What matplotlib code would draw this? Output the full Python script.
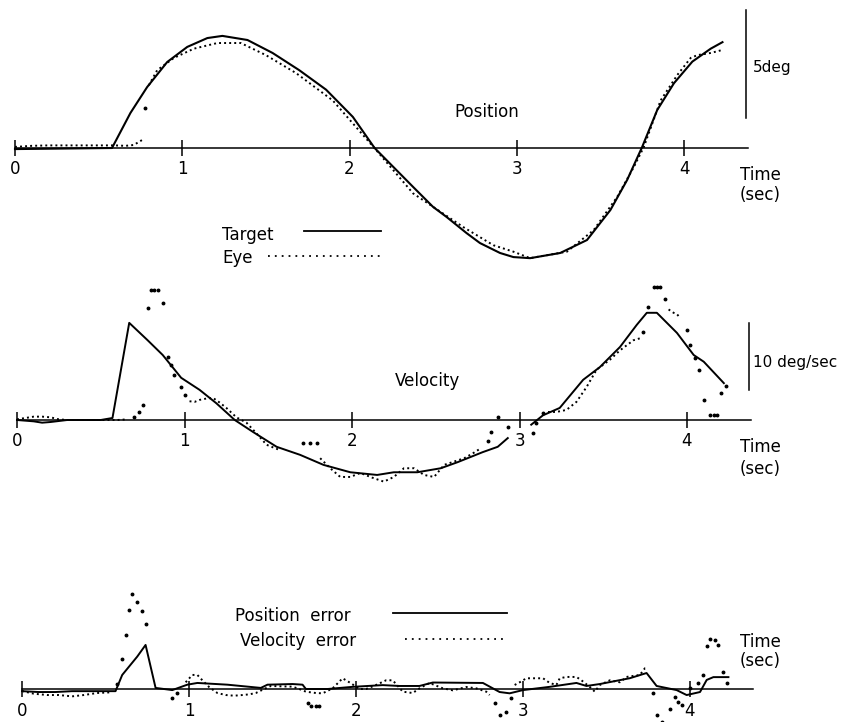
"""
Smooth pursuit tracking record: target vs eye position, velocity, and errors.
Three stacked traces sharing a time axis (sec), drawn in the old journal style.
"""

import numpy as np
import matplotlib.pyplot as plt

nan = np.nan

# --- Position panel (deg) ---
target_pos_t = [0, 0.58, 0.69, 0.79, 0.91, 1.03, 1.15, 1.24, 1.39, 1.54, 1.70, 1.86,
                2.02, 2.15, 2.38, 2.50, 2.58, 2.70, 2.78, 2.90, 2.98, 3.08, 3.26, 3.42,
                3.56, 3.66, 3.75, 3.84, 3.94, 4.05, 4.16, 4.23]
target_pos = [-0.05, 0, 1.62, 2.82, 3.98, 4.68, 5.09, 5.19, 5.0, 4.4, 3.6, 2.7,
              1.44, 0, -1.8, -2.73, -3.19, -3.94, -4.4, -4.86, -5.05, -5.1, -4.86, -4.26,
              -2.87, -1.48, 0.05, 1.76, 3.0, 4.0, 4.6, 4.9]

eye_pos_t = [0, 0.1, 0.2, 0.3, 0.4, 0.5, 0.6, 0.66, 0.71, 0.76, nan,
             0.80, 0.85, 0.95, 1.07, 1.21, 1.35, 1.50, 1.68, 1.90, 2.16, 2.38, 2.68,
             2.86, 2.98, 3.08, 3.30, 3.46, 3.60, 3.70, 3.76, 3.86, 3.96, 4.04, 4.08,
             4.16, 4.23]
eye_pos = [0.05, 0.1, 0.12, 0.12, 0.12, 0.12, 0.12, 0.1, 0.14, 0.37, nan,
           2.9, 3.6, 4.17, 4.6, 4.86, 4.86, 4.3, 3.47, 2.2, -0.1, -2.1, -3.66,
           -4.5, -4.8, -5.1, -4.8, -3.8, -2.27, -0.88, 0.05, 2.2, 3.38, 4.17, 4.3,
           4.4, 4.54]
eye_pos_dot_t = [0.78]
eye_pos_dot = [1.85]

# --- Velocity panel (deg/sec) ---
target_vel_t = [0, 0.1, 0.15, 0.2, 0.3, 0.4, 0.5, 0.57, 0.67, 0.78, 0.87, 0.98, 1.09,
                1.19, 1.30, 1.41, 1.55, 1.69, 1.83, 1.99, 2.15, 2.25, 2.39, 2.53, 2.63,
                2.78, 2.87, 2.93, nan,
                3.07, 3.14, 3.24, 3.38, 3.48, 3.60, 3.70, 3.76, 3.82, 3.94, 4.04, 4.10, 4.22]
target_vel = [0, -0.2, -0.4, -0.3, 0, 0, 0, 0.3, 14.5, 11.9, 9.7, 6.3, 4.5,
              2.5, 0, -1.8, -4.0, -5.2, -6.7, -7.8, -8.2, -7.8, -7.8, -7.2, -6.3,
              -4.8, -4.0, -2.7, nan,
              -0.7, 0.7, 1.8, 6.0, 7.9, 10.9, 14.2, 16.0, 16.0, 13.0, 9.7, 8.7, 5.5]

eye_vel_t = [0, 0.05, 0.1, 0.15, 0.2, 0.25, 0.3, 0.4, 0.5, 0.6, 0.66, nan,
             1.03, 1.06, 1.09, 1.13, 1.17, 1.21, 1.25, 1.31, 1.37, 1.43, 1.49, 1.57, nan,
             1.81, 1.87, 1.93, 1.99, 2.05, 2.12, 2.19, 2.25, 2.31, 2.37, 2.43, 2.49,
             2.55, 2.61, 2.67, 2.72, 2.77, nan,
             3.17, 3.22, 3.28, 3.34, 3.40, 3.46, 3.54, 3.60, 3.68, 3.72, nan,
             3.89, 3.92, 3.94, 3.96]
eye_vel = [0.1, 0.3, 0.5, 0.5, 0.4, 0.1, 0, 0, 0, 0, 0.1, nan,
           2.8, 2.7, 3.0, 3.2, 3.3, 2.6, 1.8, 0.4, -0.4, -2.0, -3.7, -4.5, nan,
           -5.7, -7.2, -8.5, -8.5, -7.9, -8.6, -9.2, -8.5, -7.2, -7.2, -8.2, -8.5,
           -6.7, -6.2, -5.7, -5.0, -4.2, nan,
           1.2, 1.2, 1.5, 2.7, 4.9, 7.5, 9.0, 10.4, 11.9, 12.2, nan,
           16.5, 16.0, 15.8, 15.2]
eye_vel_dot_t = [0.70, 0.73, 0.75, 0.78, 0.80, 0.82, 0.84, 0.87, 0.90, 0.92, 0.94,
                 0.98, 1.00, 1.71, 1.75, 1.79, 2.81, 2.83, 2.87, 2.93, 3.08, 3.10,
                 3.14, 3.74, 3.77, 3.80, 3.82, 3.84, 3.87, 4.00, 4.02, 4.05, 4.07,
                 4.10, 4.14, 4.16, 4.18, 4.20, 4.23]
eye_vel_dot = [0.4, 1.2, 2.2, 16.7, 19.4, 19.4, 19.4, 17.5, 9.4, 8.2, 6.7,
               4.9, 3.7, -3.4, -3.4, -3.4, -3.2, -1.8, 0.4, -1.0, -2.0, -0.5,
               1.0, 13.1, 16.9, 19.9, 19.9, 19.9, 18.1, 13.4, 11.2, 9.3, 7.5,
               3.0, 0.7, 0.7, 0.7, 4.0, 5.1]

# --- Error panel: position error (deg), velocity error (deg/sec) ---
pos_err_t = [0, 0.1, 0.2, 0.3, 0.4, 0.5, 0.56, 0.60, 0.69, 0.74, 0.80, 0.90, 0.99,
             1.05, 1.23, 1.43, 1.47, 1.62, 1.68, 1.70, 1.83, 1.98, 2.16, 2.26, 2.38,
             2.46, 2.76, 2.86, 2.92, 3.00, 3.16, 3.32, 3.38, 3.46, 3.64, 3.74, 3.80,
             3.92, 3.98, 4.06, 4.10, 4.14, 4.23]
pos_err = [-0.1, -0.14, -0.14, -0.1, -0.1, -0.1, -0.1, 0.65, 1.5, 2.04, 0.05, -0.05, 0.2,
           0.28, 0.2, 0.05, 0.2, 0.23, 0.2, 0, 0, 0.1, 0.18, 0.14, 0.14,
           0.3, 0.28, -0.14, -0.2, -0.05, 0.1, 0.28, 0.14, 0.23, 0.5, 0.74, 0.14,
           -0.05, -0.28, -0.14, 0.42, 0.55, 0.55]

vel_err_t = [0, 0.07, 0.15, 0.22, 0.30, 0.37, 0.45, 0.53, nan,
             0.98, 1.02, 1.05, 1.08, 1.12, 1.17, 1.22, 1.27, 1.32, 1.36, 1.40, 1.45,
             1.49, 1.55, 1.62, 1.66, 1.70, 1.76, 1.80, 1.86, 1.92, 1.97, 2.02, 2.06,
             2.12, 2.18, 2.22, 2.28, 2.34, 2.38, 2.44, 2.52, 2.58, 2.66, 2.72, 2.78,
             2.80, nan,
             2.95, 2.98, 3.02, 3.07, 3.12, 3.16, 3.20, 3.22, 3.26, 3.32, 3.35, 3.40,
             3.43, 3.46, 3.52, 3.58, 3.62, 3.70, 3.73, 3.75]
vel_err = [-0.3, -0.7, -0.9, -0.9, -1.1, -0.9, -0.6, -0.5, nan,
           1.0, 2.1, 2.1, 1.3, 0.3, -0.6, -0.9, -1.0, -0.9, -0.8, -0.6, 0,
           0.45, 0.4, 0.35, 0, -0.4, -0.6, -0.65, 0.1, 1.6, 0.85, 0, 0,
           0.6, 1.3, 1.3, -0.4, -0.6, 0.1, 0.9, 0.1, -0.2, 0.3, 0.1, -0.4,
           -0.9, nan,
           0.6, 1.0, 1.6, 1.6, 1.6, 0.9, 0.6, 1.6, 1.8, 1.8, 1.3, 0.3,
           -0.4, 0.6, 1.3, 1.0, 1.8, 2.1, 3.1, 3.1]
vel_err_dot_t = [0.57, 0.60, 0.62, 0.64, 0.66, 0.69, 0.72, 0.74, 0.90, 0.93,
                 1.71, 1.73, 1.76, 1.78, 2.83, 2.86, 2.90, 2.93,
                 3.78, 3.80, 3.83, 3.88, 3.91, 3.93, 3.95, 4.00, 4.05, 4.08,
                 4.10, 4.12, 4.15, 4.17, 4.20, 4.22]
vel_err_dot = [0.75, 4.5, 8.1, 11.8, 14.2, 13.0, 11.6, 9.7, -1.3, -0.6,
               -2.1, -2.6, -2.6, -2.6, -2.1, -3.9, -3.4, -1.3,
               -0.6, -3.9, -4.9, -3.0, -1.2, -1.9, -2.4, 0.1, 0.9, 2.1,
               6.4, 7.5, 7.3, 6.6, 2.5, 0.9]

TICKS = [0, 1, 2, 3, 4]
TICK_LABELS = ["0", "1", "2", "3", "4"]
AXIS_END = 4.38
SCALE_POS = 5    # deg
SCALE_VEL = 10   # deg/sec

W, H = 843, 722
plt.rcParams["font.family"] = ["DejaVu Sans"]

fig = plt.figure(figsize=(W / 100, H / 100), dpi=100)

DOTS = (0, (1, 1.6))
LEGEND_DOTS = (0, (1, 2.8))


def panel(x0, px_per_s, y0, px_per_unit, with_axis=True):
    """Full-figure transparent axes, with t=0 at pixel x0 and y=0 at pixel y0 (from top)."""
    ax = fig.add_axes([0, 0, 1, 1])
    ax.patch.set_alpha(0)
    ax.set_xlim(-x0 / px_per_s, (W - x0) / px_per_s)
    ax.set_ylim(-(H - y0) / px_per_unit, y0 / px_per_unit)
    for side in ["top", "left", "right"]:
        ax.spines[side].set_visible(False)
    ax.set_yticks([])
    if with_axis:
        ax.spines["bottom"].set_position(("data", 0))
        ax.spines["bottom"].set_bounds(0, AXIS_END)
        ax.spines["bottom"].set_linewidth(1.1)
        ax.set_xticks(TICKS)
        ax.set_xticklabels(TICK_LABELS)
        ax.tick_params(axis="x", direction="inout", length=11, width=1.1,
                       labelsize=12, pad=3.5)
    else:
        ax.spines["bottom"].set_visible(False)
        ax.set_xticks([])
    return ax


def ftext(x, y, s, size=12, ha="left"):
    fig.text(x / W, 1 - y / H, s, fontsize=size, ha=ha, va="baseline")


def fline(x1, x2, y, ls="-", lw=1.3):
    fig.add_artist(plt.Line2D([x1 / W, x2 / W], [1 - y / H, 1 - y / H],
                              color="black", lw=lw, ls=ls))


# Position
ax_pos = panel(15, 167.25, 148, 21.6)
ax_pos.plot(target_pos_t, target_pos, color="black", lw=1.5)
ax_pos.plot(eye_pos_t, eye_pos, color="black", lw=1.4, ls=DOTS)
ax_pos.plot(eye_pos_dot_t, eye_pos_dot, "o", color="black", ms=1.8)
ax_pos.plot([4.371, 4.371], [1.39, 1.39 + SCALE_POS], color="black", lw=1.1)

# Velocity
ax_vel = panel(17, 167.5, 420, 6.7)
ax_vel.plot(target_vel_t, target_vel, color="black", lw=1.4)
ax_vel.plot(eye_vel_t, eye_vel, color="black", lw=1.4, ls=DOTS)
ax_vel.plot(eye_vel_dot_t, eye_vel_dot, "o", color="black", ms=1.8)
ax_vel.plot([4.37, 4.37], [4.48, 4.48 + SCALE_VEL], color="black", lw=1.1)

# Errors
ax_err = panel(22, 167, 689, 21.6)
ax_err.plot(pos_err_t, pos_err, color="black", lw=1.4)
ax_verr = panel(22, 167, 689, 6.7, with_axis=False)
ax_verr.plot(vel_err_t, vel_err, color="black", lw=1.4, ls=DOTS)
ax_verr.plot(vel_err_dot_t, vel_err_dot, "o", color="black", ms=1.8)

# Labels
ftext(487, 117, "Position", ha="center")
ftext(427, 386, "Velocity", ha="center")
ftext(753, 72, "5deg", size=11)
ftext(753, 367, "10 deg/sec", size=11)
for y_time, y_sec in [(180, 200), (452, 474), (647, 666)]:
    ftext(760, y_time, "Time", ha="center")
    ftext(760, y_sec, "(sec)", ha="center")

# Legends
ftext(222, 240, "Target")
fline(304, 381, 231)
ftext(222, 263, "Eye")
fline(268, 380, 256, ls=LEGEND_DOTS)
ftext(235, 621, "Position  error")
fline(393, 507, 613)
ftext(240, 646, "Velocity  error")
fline(405, 507, 639, ls=LEGEND_DOTS)

fig.savefig("out.png", dpi=100)
